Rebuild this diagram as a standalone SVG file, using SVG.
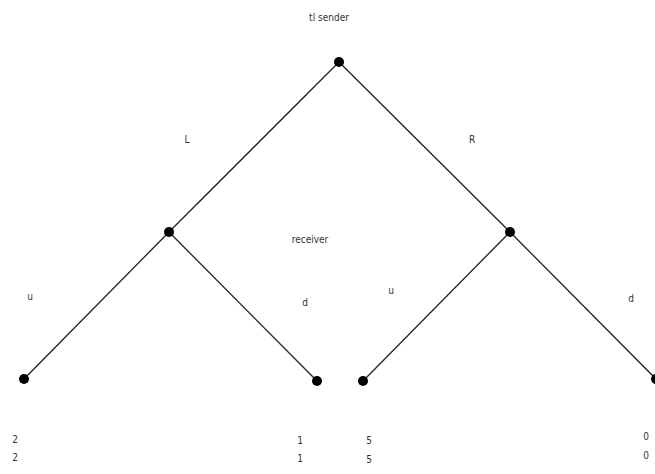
<svg xmlns="http://www.w3.org/2000/svg" width="655" height="474" viewBox="0 0 655 474">
<style>
.t{font-family:"DejaVu Sans Condensed","Liberation Sans Narrow","Liberation Sans",sans-serif;font-size:10px;fill:#333}
.e{stroke:#222;stroke-width:1.3;fill:none}
.n{fill:#000}
</style>
<rect width="655" height="474" fill="#fff"/>
<g id="connectors">
<line class="e" x1="339" y1="62" x2="169" y2="232"/>
<line class="e" x1="339" y1="62" x2="510" y2="232"/>
<line class="e" x1="169" y1="232" x2="24" y2="379"/>
<line class="e" x1="169" y1="232" x2="317" y2="381"/>
<line class="e" x1="510" y1="232" x2="363" y2="381"/>
<line class="e" x1="510" y1="232" x2="656" y2="379"/>
</g>
<g id="root"><circle class="n" cx="339" cy="62" r="5"/><text class="t" x="329" y="21" text-anchor="middle">tl sender</text></g>
<g id="left"><circle class="n" cx="169" cy="232" r="5"/></g>
<g id="right"><circle class="n" cx="510" cy="232" r="5"/></g>
<g id="leaf1"><circle class="n" cx="24" cy="379" r="5"/><text class="t" x="15" y="443" text-anchor="middle">2</text><text class="t" x="15" y="461" text-anchor="middle">2</text></g>
<g id="leaf2"><circle class="n" cx="317" cy="381" r="5"/><text class="t" x="300" y="444" text-anchor="middle">1</text><text class="t" x="300" y="462" text-anchor="middle">1</text></g>
<g id="leaf3"><circle class="n" cx="363" cy="381" r="5"/><text class="t" x="369" y="444" text-anchor="middle">5</text><text class="t" x="369" y="463" text-anchor="middle">5</text></g>
<g id="leaf4"><circle class="n" cx="656" cy="379" r="5"/><text class="t" x="646" y="440" text-anchor="middle">0</text><text class="t" x="646" y="459" text-anchor="middle">0</text></g>
<g id="labels">
<text class="t" x="187" y="143" text-anchor="middle">L</text>
<text class="t" x="472" y="143" text-anchor="middle">R</text>
<text class="t" x="310" y="243" text-anchor="middle">receiver</text>
<text class="t" x="30" y="300" text-anchor="middle">u</text>
<text class="t" x="305" y="306" text-anchor="middle">d</text>
<text class="t" x="391" y="294" text-anchor="middle">u</text>
<text class="t" x="631" y="302" text-anchor="middle">d</text>
</g>
</svg>
